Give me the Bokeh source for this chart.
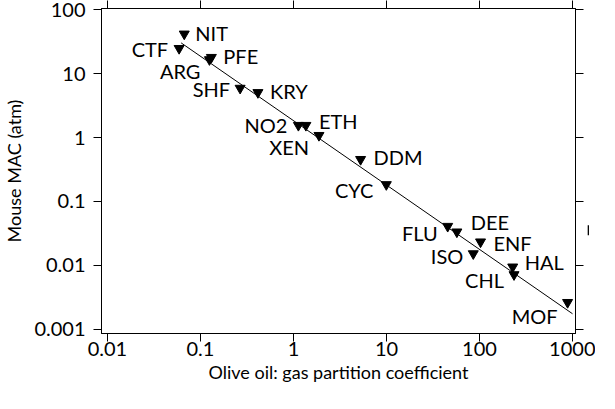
import math
from bokeh.plotting import figure
from bokeh.models import (ColumnDataSource, LogAxis, FixedTicker, Label, Arrow, NormalHead,
                          Range1d, CustomJSTickFormatter)
from bokeh.core.properties import value
from bokeh.embed import file_html
from bokeh.resources import INLINE

# ---- data ----
agents = ["NIT", "CTF", "PFE", "ARG", "SHF", "KRY", "NO2", "ETH", "XEN",
          "DDM", "CYC", "FLU", "DEE", "ENF", "ISO", "HAL", "CHL", "MOF"]
oil_gas = [0.067, 0.059, 0.131, 0.125, 0.267, 0.415, 1.13, 1.36, 1.88,
           5.27, 9.96, 45.5, 57.1, 102.6, 85.7, 227.5, 235, 885]
mouse_mac = [41.5, 24.7, 17.9, 16.5, 5.9, 5.05, 1.55, 1.55, 1.08,
             0.455, 0.184, 0.041, 0.0335, 0.0234, 0.0153, 0.0095, 0.0072, 0.00265]
fit_x = [0.062, 1000]
fit_y = [30.1, 0.00176]
x_ticks = [0.01, 0.1, 1, 10, 100, 1000]
x_tick_labels = ["0.01", "0.1", "1", "10", "100", "1000"]
y_ticks = [0.001, 0.01, 0.1, 1, 10, 100]
y_tick_labels = ["0.001", "0.01", "0.1", "1", "10", "100"]

# ---- label placement (layout only, screen px; dy positive = down) ----
label_align = ["left", "right", "left", "right", "right", "left", "right", "left", "right",
               "left", "right", "right", "left", "left", "right", "left", "right", "right"]
label_dx = [11, -11, 12, -9, -10, 12, -11, 13, -10, 13, -13, -10, 14, 13, -10, 12, -10, -10]
label_dy = [-1, 1, -1, 11, 1, -1, 0, -4, 12, -2, 5, 7, -10, 1, 2, -5, 5, 14]

FONT = "Lato"

LABEL_JS = """
let best = 0, bd = Infinity;
for (let i = 0; i < tv.length; i++) {
  const d = Math.abs(Math.log10(tick) - Math.log10(tv[i]));
  if (d < bd) { bd = d; best = i; }
}
return tl[best];
"""

X_LO, X_HI = -2.0636, 3.032
Y_LO, Y_HI = -3.063, 2.016

p = figure(width=595, height=385,
           x_axis_type="log", y_axis_type="log",
           x_range=Range1d(10 ** X_LO, 10 ** X_HI),
           y_range=Range1d(10 ** Y_LO, 10 ** Y_HI),
           output_backend="svg", toolbar_location=None,
           min_border_left=94, min_border_right=20, min_border_top=0, min_border_bottom=0,
           x_axis_label="Olive oil: gas partition coefficient",
           y_axis_label="Mouse MAC (atm)")
p.background_fill_color = "white"
p.border_fill_color = "white"
p.outline_line_color = "black"
p.outline_line_width = 1
p.grid.visible = False

for ax, ticks, labels in ((p.xaxis[0], x_ticks, x_tick_labels), (p.yaxis[0], y_ticks, y_tick_labels)):
    ax.ticker = FixedTicker(ticks=ticks)
    ax.formatter = CustomJSTickFormatter(args=dict(tv=ticks, tl=labels), code=LABEL_JS)
    ax.major_label_text_font = FONT
    ax.major_label_text_font_size = "20px"
    ax.major_label_text_color = "black"
    ax.axis_label_text_font = FONT
    ax.axis_label_text_font_size = "18px"
    ax.axis_label_text_font_style = "normal"
    ax.axis_label_text_color = "black"
    ax.major_tick_out = 8
    ax.major_tick_in = 0
    ax.minor_tick_line_color = None
    ax.axis_line_color = "black"
    ax.major_tick_line_color = "black"

p.xaxis[0].major_label_standoff = 0
p.xaxis[0].axis_label_standoff = 2
p.yaxis[0].major_label_standoff = 8
p.yaxis[0].axis_label_standoff = 6

for side, ticks, labels in (("above", x_ticks, x_tick_labels), ("right", y_ticks, y_tick_labels)):
    extra = LogAxis(ticker=FixedTicker(ticks=ticks),
                    formatter=CustomJSTickFormatter(args=dict(tv=ticks, tl=labels), code=LABEL_JS))
    extra.major_label_text_font = FONT
    extra.major_label_text_font_size = "8px"
    extra.major_label_text_color = None
    extra.major_label_standoff = -9
    extra.major_tick_out = 8
    extra.major_tick_in = 0
    extra.minor_tick_line_color = None
    extra.axis_line_color = "black"
    extra.major_tick_line_color = "black"
    p.add_layout(extra, side)

# regression line
p.line(fit_x, fit_y, line_color="black", line_width=1)

src = ColumnDataSource(dict(x=oil_gas, y=mouse_mac, name=agents, align=label_align,
                            dx=label_dx, dy=label_dy))
p.scatter("x", "y", source=src, marker="inverted_triangle", size=10,
          fill_color="black", line_color="black")
p.text(x="x", y="y", text="name", source=src, text_font=value(FONT),
       text_font_size=value("20px"), text_align="align", text_baseline=value("middle"),
       x_offset="dx", y_offset="dy", text_color="black")

# Potency annotation on the right margin
pot_x = 10 ** 3.170
p.add_layout(Label(x=pot_x, y=10 ** 0.307, text="Potency", angle=-math.pi / 2,
                   text_align="left", text_baseline="middle", text_font=FONT,
                   text_font_size="15px", text_color="black"))
p.add_layout(Arrow(end=NormalHead(size=10, fill_color="black", line_color="black"),
                   x_start=pot_x, y_start=10 ** -0.547, x_end=pot_x, y_end=10 ** -1.528,
                   line_color="black", line_width=1.3))

open("out.html", "w").write(file_html(p, INLINE))
